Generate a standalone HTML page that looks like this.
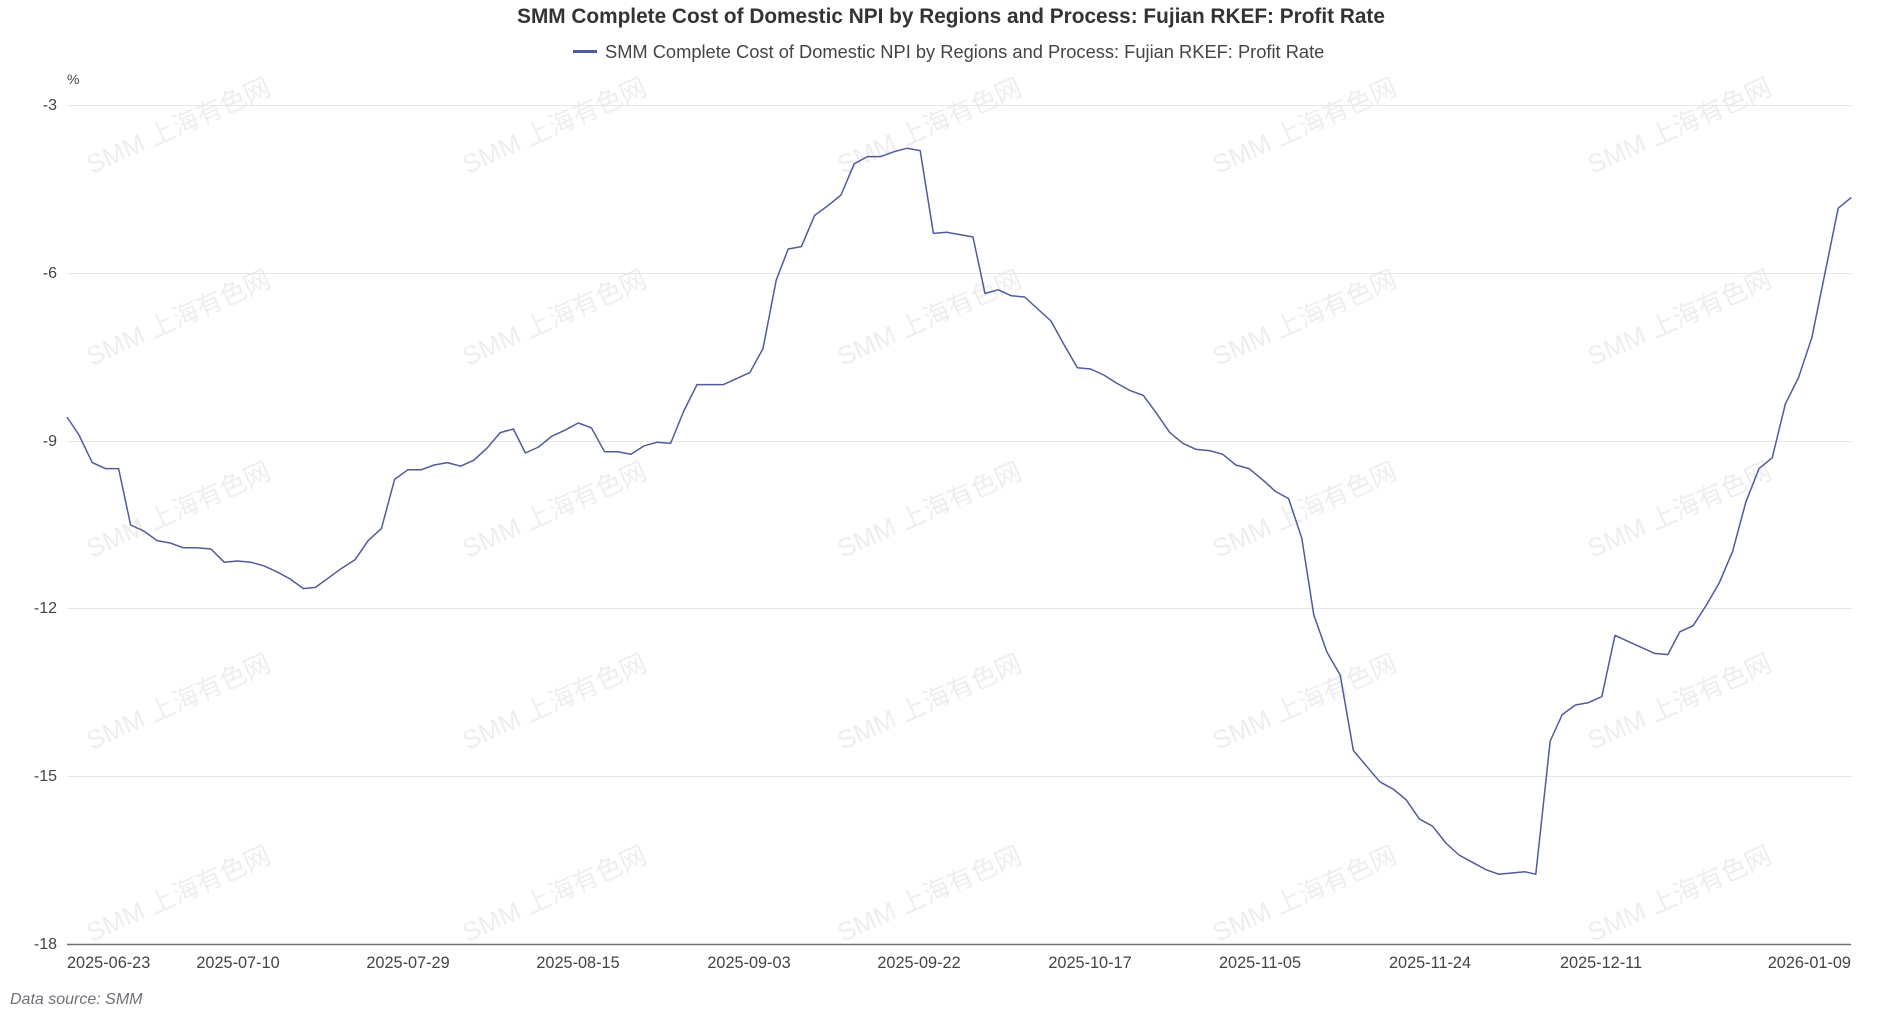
<!DOCTYPE html>
<html><head><meta charset="utf-8"><style>
html,body{margin:0;padding:0;background:#fff;}
body{width:1880px;height:1017px;overflow:hidden;}
svg{display:block;font-family:"Liberation Sans","Noto Sans CJK SC",sans-serif;}
</style></head><body>
<svg width="1880" height="1017" viewBox="0 0 1880 1017" xmlns="http://www.w3.org/2000/svg">
<g fill="#eeeeee" font-size="26" text-anchor="middle">
<g id="wm">
<text transform="translate(182,134) rotate(-24)">SMM 上海有色网</text>
<text transform="translate(558,134) rotate(-24)">SMM 上海有色网</text>
<text transform="translate(933,134) rotate(-24)">SMM 上海有色网</text>
<text transform="translate(1308,134) rotate(-24)">SMM 上海有色网</text>
<text transform="translate(1683,134) rotate(-24)">SMM 上海有色网</text>
</g>
<use href="#wm" y="192"/><use href="#wm" y="384"/><use href="#wm" y="576"/><use href="#wm" y="768"/>
</g>
<text x="951" y="23" text-anchor="middle" font-size="20.8" font-weight="bold" fill="#333">SMM Complete Cost of Domestic NPI by Regions and Process: Fujian RKEF: Profit Rate</text>
<rect x="573" y="50" width="24" height="3" fill="#4f5b9c"/>
<text x="605" y="58" font-size="18.3" fill="#444">SMM Complete Cost of Domestic NPI by Regions and Process: Fujian RKEF: Profit Rate</text>
<text x="67" y="84" font-size="14" fill="#444">%</text>
<g stroke="#e6e6e6" stroke-width="1">
<line x1="67" x2="1851" y1="105.5" y2="105.5"/>
<line x1="67" x2="1851" y1="273.5" y2="273.5"/>
<line x1="67" x2="1851" y1="441.5" y2="441.5"/>
<line x1="67" x2="1851" y1="608.5" y2="608.5"/>
<line x1="67" x2="1851" y1="776.5" y2="776.5"/>
</g>
<line x1="67" x2="1851" y1="944.5" y2="944.5" stroke="#6e7079" stroke-width="1.5"/>
<g font-size="16" fill="#444" text-anchor="end">
<text x="57" y="110">-3</text><text x="57" y="278">-6</text><text x="57" y="446">-9</text>
<text x="57" y="613">-12</text><text x="57" y="781">-15</text><text x="57" y="949">-18</text>
</g>
<g font-size="16.3" fill="#444" text-anchor="middle">
<text x="67" y="968" text-anchor="start">2025-06-23</text>
<text x="238" y="968">2025-07-10</text>
<text x="408" y="968">2025-07-29</text>
<text x="578" y="968">2025-08-15</text>
<text x="749" y="968">2025-09-03</text>
<text x="919" y="968">2025-09-22</text>
<text x="1090" y="968">2025-10-17</text>
<text x="1260" y="968">2025-11-05</text>
<text x="1430" y="968">2025-11-24</text>
<text x="1601" y="968">2025-12-11</text>
<text x="1851" y="968" text-anchor="end">2026-01-09</text>
</g>
<text x="10" y="1004" font-size="16" font-style="italic" fill="#6e7079">Data source:  SMM</text>
<g transform="translate(-0.2,-0.6) scale(1.2)">
<polyline fill="none" stroke="#4f5b9c" stroke-width="1.5" vector-effect="non-scaling-stroke" stroke-linejoin="round" points="56,348 66,363 77,386 88,391 99,391 109,438 120,443 131,451 142,453 153,457 164,457 176,458 187,469 198,468 209,469 220,472 231,477 242,483 253,491 263,490 274,482 285,474 296,467 307,451 318,441 329,400 340,392 351,392 362,388 373,386 384,389 395,384 406,374 417,361 428,358 438,378 449,373 460,364 471,359 482,353 493,357 504,377 515,377 526,379 537,372 548,369 559,370 570,343 581,321 592,321 603,321 614,316 625,311 636,291 647,234 657,208 668,206 679,180 690,172 701,163 712,137 723,131 734,131 745,127 756,124 767,126 778,195 789,194 800,196 811,198 821,245 832,242 843,247 854,248 865,258 876,268 887,288 898,307 909,308 920,313 931,320 942,326 953,330 964,345 975,361 986,370 997,375 1008,376 1019,379 1030,388 1041,391 1052,400 1063,410 1074,416 1085,449 1095,513 1106,544 1117,563 1128,626 1139,639 1150,652 1161,658 1172,667 1183,683 1194,689 1205,703 1216,713 1227,719 1238,725 1249,729 1260,728 1271,727 1280,729 1292,618 1302,596 1313,588 1324,586 1335,581 1346,530 1357,535 1368,540 1379,545 1390,546 1400,527 1411,522 1422,505 1433,486 1444,460 1455,419 1466,391 1477,382 1488,337 1499,315 1510,282 1521,228 1532,174 1543,165"/>
</g>
</svg>
</body></html>
